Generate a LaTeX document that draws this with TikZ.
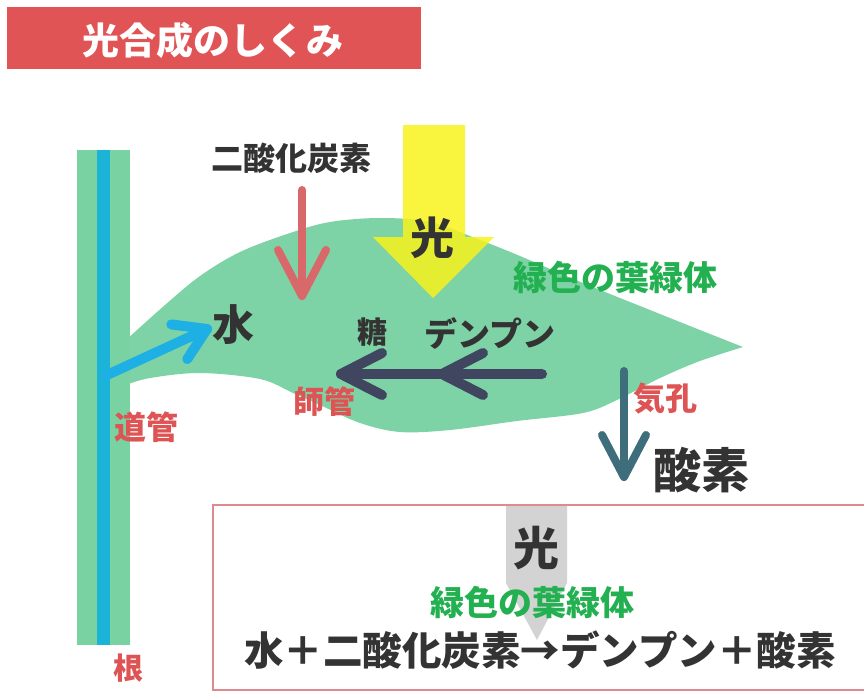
\documentclass[tikz,border=0pt]{standalone}
\usepackage{fontspec}
\setmainfont{Noto Sans CJK JP}
\usetikzlibrary{calc}

\definecolor{titlered}{HTML}{E05456}
\definecolor{leafgreen}{HTML}{7DD3A6}
\definecolor{stemgreen}{HTML}{78D2A2}
\definecolor{xylemblue}{HTML}{1BB4D8}
\definecolor{waterblue}{HTML}{1EB0E4}
\definecolor{co2red}{HTML}{D9686A}
\definecolor{sugarnavy}{HTML}{404660}
\definecolor{oxyteal}{HTML}{3E6E7C}
\definecolor{sunyellow}{HTML}{F8F21C}
\definecolor{lightgray}{HTML}{D3D3D3}
\definecolor{inkdark}{HTML}{333333}
\definecolor{labelred}{HTML}{DE5454}
\definecolor{labelgreen}{HTML}{22B050}
\definecolor{frame}{HTML}{E08A90}

\newcommand\fsz[1]{\fontsize{#1}{#1}\selectfont}

\begin{document}
\begin{tikzpicture}[x=1pt,y=-1pt,
  txt/.style={inner sep=0pt, font=\bfseries\fsz{#1}},
  dark/.style={txt=#1, text=inkdark},
  redlbl/.style={txt=#1, text=labelred},
  greenlbl/.style={txt=#1, text=labelgreen},
  fat/.style={line width=#1, line cap=round, line join=round}]

\useasboundingbox (0,0) rectangle (864,693);

% heading banner
\fill[titlered] (7,7) rectangle (421,69);
\node[txt=37, text=white] (title) at (213,40) {光合成のしくみ};

% leaf blade
\fill[leafgreen]
  plot[smooth, tension=0.55] coordinates {(126,340) (165,305) (200,276) (240,252)
    (290,233) (330,222) (380,218) (430,222) (480,240) (520,256) (583,283)
    (650,310) (700,330) (743,347)}
  -- plot[smooth, tension=0.55] coordinates {(743,347) (700,361) (660,378)
    (617,400) (583,413) (517,421) (450,430) (400,432) (360,423) (320,405)
    (293,393) (260,379) (200,373) (150,378) (126,385)}
  -- cycle;

% stem with its vessel
\fill[stemgreen] (77,150) rectangle (130,645);
\fill[xylemblue] (97,150) rectangle (110,645);

% sunlight arrow
\fill[sunyellow, fill opacity=0.85] (403,125) -- (465,125) -- (465,237)
  -- (494,237) -- (433,298) -- (373,237) -- (403,237) -- cycle;
\node[dark=44] (light) at (432,238) {光};

% carbon dioxide entering
\node[dark=32] (co2) at (291,158) {二酸化炭素};
\coordinate (co2tail) at (302,190);
\coordinate (co2tip) at (302,296);
\draw[fat=8pt, co2red] (co2tail) -- (co2tip);
\draw[fat=8pt, co2red] ($(co2tip)+(-24,-46)$) -- (co2tip) -- ($(co2tip)+(24,-46)$);

% water rising from the vessel
\node[dark=42] (water) at (233,325) {水};
\coordinate (wtail) at (107,375);
\coordinate (wtip) at (207,329);
\draw[fat=10pt, waterblue] (wtail) -- (wtip);
\draw[fat=10pt, waterblue] ($(wtip)!36pt!32:(wtail)$) -- (wtip) -- ($(wtip)!36pt!-32:(wtail)$);

% starch to sugar transport
\node[dark=30] (sugar) at (372,332) {糖};
\node[dark=33] (starch) at (490,333) {デンプン};
\coordinate (stail) at (542,374);
\coordinate (stip) at (341,374);
\coordinate (smid) at (442,374);
\draw[fat=10pt, sugarnavy] (stail) -- (stip);
\draw[fat=10pt, sugarnavy] ($(stip)+(41,-21)$) -- (stip) -- ($(stip)+(41,21)$);
\draw[fat=10pt, sugarnavy] ($(smid)+(41,-21)$) -- (smid) -- ($(smid)+(41,21)$);

% oxygen leaving
\coordinate (otail) at (624,371);
\coordinate (otip) at (624,477);
\draw[fat=8pt, oxyteal] (otail) -- (otip);
\draw[fat=8pt, oxyteal] ($(otip)+(-22,-42)$) -- (otip) -- ($(otip)+(22,-42)$);
\node[redlbl=32] (stoma) at (665,399) {気孔};
\node[dark=48] (oxygen) at (701,470) {酸素};

% labels on leaf and stem
\node[greenlbl=34] (chloro) at (615,277) {緑色の葉緑体};
\node[redlbl=31] (phloem) at (324,402) {師管};
\node[redlbl=32] (xylem) at (146,427) {道管};
\node[redlbl=30] (root) at (128,668) {根};

% summary box with the word equation
\fill[lightgray] (506,506) -- (567,506) -- (567,583) -- (537,640) -- (506,583) -- cycle;
\draw[frame, line width=2.5pt] (880,505) -- (213,505) -- (213,690) -- (880,690);
\node[dark=46] (boxlight) at (536,548) {光};
\node[greenlbl=34] (boxchloro) at (532,602) {緑色の葉緑体};
\node[dark=39.5] (equation) at (540,650) {水＋二酸化炭素→デンプン＋酸素};

\end{tikzpicture}
\end{document}
